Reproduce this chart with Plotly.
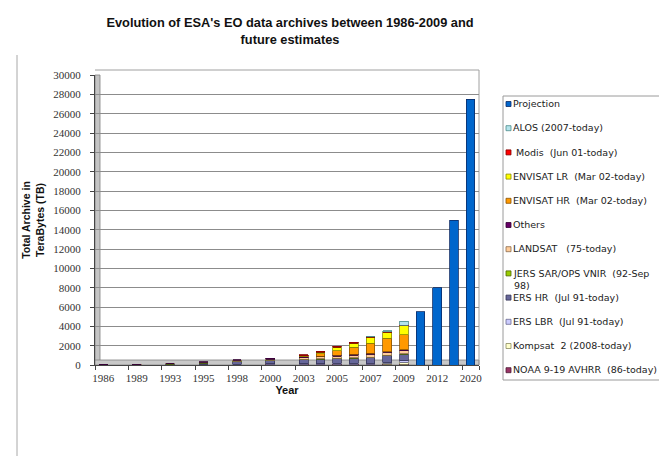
import plotly.graph_objects as go

# ---------------- data ----------------
years = ["1986", "1989", "1993", "1995", "1998", "2000", "2003", "2004", "2005",
         "2006", "2007", "2008", "2009", "2010", "2012", "2015", "2020"]
# empty category slots in the original axis (no data)
gap_years = ["1987", "1991", "1994", "1997", "1999", "2001"]
tick_years = ["1986", "1989", "1993", "1995", "1998", "2000", "2003", "2005",
              "2007", "2009", "2012", "2020"]

N = None
noaa = [10, 15, 25, 35, 50, 60, 70, 75, 80, 85, 90, 95, 100, N, N, N, N]
kompsat = [N, N, N, N, N, N, N, N, N, N, N, 100, 200, N, N, N, N]
ers_lbr = [N, N, 15, 30, 45, 55, 65, 75, 85, 95, 105, 115, 125, N, N, N, N]
ers_hr = [N, N, 50, 130, 250, 320, 400, 440, 480, 530, 580, 640, 700, N, N, N, N]
jers = [N, N, 15, 25, 35, 35, 35, 35, 35, 35, 35, 35, 35, N, N, N, N]
landsat = [35, 45, 60, 80, 110, 150, 190, 210, 240, 260, 290, 310, 330, N, N, N, N]
others = [10, 10, 15, 20, 40, 60, 80, 90, 100, 100, 100, 100, 100, N, N, N, N]
envisat_hr = [N, N, N, N, N, N, 60, 260, 480, 720, 1050, 1380, 1520, N, N, N, N]
envisat_lr = [N, N, N, N, N, N, 40, 120, 330, 430, 630, 600, 950, N, N, N, N]
modis = [N, N, N, N, N, N, 100, 120, 100, 80, 60, 50, 50, N, N, N, N]
alos = [N, N, N, N, N, N, N, N, N, N, 30, 120, 400, N, N, N, N]
projection = [N, N, N, N, N, N, N, N, N, N, N, N, N, 5500, 8000, 15000, 27500]

# stacking order, bottom -> top
series_names = ["NOAA 9-19 AVHRR  (86-today)", "Kompsat  2 (2008-today)",
                "ERS LBR  (Jul 91-today)", "ERS HR  (Jul 91-today)",
                "JERS SAR/OPS VNIR  (92-Sep<br>98)", "LANDSAT   (75-today)",
                "Others", "ENVISAT HR  (Mar 02-today)", "ENVISAT LR  (Mar 02-today)",
                " Modis  (Jun 01-today)", "ALOS (2007-today)", "Projection"]
series_values = [noaa, kompsat, ers_lbr, ers_hr, jers, landsat, others,
                 envisat_hr, envisat_lr, modis, alos, projection]
series_colors = ["#993366", "#FFFFCC", "#CCCCFF", "#666699", "#99CC00", "#FFCC99",
                 "#660066", "#FF9900", "#FFFF00", "#FF0000", "#B4E4EC", "#0066CC"]
series_edges = ["#4d1a33", "#8a8a60", "#6a6a90", "#333355", "#4d6600", "#8a6a4d",
                "#330033", "#8a5200", "#8a8a00", "#800000", "#4a8a8a", "#0a2a66"]

all_categories = sorted(years + gap_years)

# ---------------- figure ----------------
fig = go.Figure()
for name, vals, col, edge in zip(series_names, series_values, series_colors, series_edges):
    fig.add_trace(go.Bar(
        x=years, y=vals, name=name.replace("<br>", " "),
        marker=dict(color=col, line=dict(color=edge, width=0.8)),
        showlegend=False,
    ))

# plot-area geometry (pixels)
W, H = 659, 456
L, R, T, B = 95, 479, 75, 365
def px_x(p):
    return (p - L) / (R - L)
def px_y(p):
    return (B - p) / (B - T)

shapes = [
    # left 3-D wall
    dict(type="rect", xref="paper", yref="paper", x0=0, x1=px_x(L + 5), y0=0, y1=1,
         fillcolor="#C4C4C4", line=dict(color="#808080", width=0.8), layer="below"),
    # floor
    dict(type="rect", xref="paper", yref="paper", x0=0, x1=1, y0=0, y1=px_y(B - 5),
         fillcolor="#C8C8C8", line=dict(color="#808080", width=0.8), layer="below"),
    # back-wall right edge
    dict(type="line", xref="paper", yref="paper", x0=1, x1=1, y0=0, y1=px_y(70),
         line=dict(color="#A0A0A0", width=1), layer="below"),
    dict(type="line", xref="paper", yref="paper", x0=0, x1=1, y0=px_y(70), y1=px_y(70),
         line=dict(color="#A0A0A0", width=1), layer="below"),
    # chart-area left border
    dict(type="line", xref="paper", yref="paper", x0=px_x(17), x1=px_x(17),
         y0=px_y(55), y1=px_y(456), line=dict(color="#A8A8A8", width=1)),
    # legend box
    dict(type="rect", xref="paper", yref="paper", x0=px_x(503), x1=px_x(690),
         y0=px_y(380), y1=px_y(96), fillcolor="white",
         line=dict(color="#9A9A9A", width=1)),
]

annotations = []
legend_names = series_names[::-1]
legend_colors = series_colors[::-1]
legend_edges = series_edges[::-1]
for i, (nm, col, edge) in enumerate(zip(legend_names, legend_colors, legend_edges)):
    cy = 104 + 24.2 * i
    shapes.append(dict(type="rect", xref="paper", yref="paper",
                       x0=px_x(506), x1=px_x(511), y0=px_y(cy + 2.5), y1=px_y(cy - 2.5),
                       fillcolor=col, line=dict(color=edge, width=0.8)))
    annotations.append(dict(xref="paper", yref="paper", x=px_x(512), y=px_y(cy - 6.8),
                            xanchor="left", yanchor="top", align="left", showarrow=False,
                            text=nm, borderpad=0,
                            font=dict(family="DejaVu Sans", size=9.5, color="#222222")))

fig.update_layout(
    width=W, height=H,
    margin=dict(l=L, r=W - R, t=T, b=H - B, pad=0),
    barmode="stack", bargap=0.48,
    plot_bgcolor="white", paper_bgcolor="white",
    showlegend=False,
    title=dict(text="Evolution of ESA's EO data archives between 1986-2009 and<br>future estimates",
               x=290 / W, xanchor="center", xref="container",
               y=1 - 27 / H, yanchor="top", yref="container",
               font=dict(family="Liberation Sans, Arial", size=12.8, color="#111111",
                         weight="bold")),
    xaxis=dict(type="category", categoryorder="array", categoryarray=all_categories,
               tickmode="array", tickvals=tick_years, ticktext=tick_years,
               tickangle=0, ticklabelstandoff=3,
               tickson="boundaries", ticks="outside", ticklen=4, tickcolor="#444444",
               showline=True, linecolor="#444444", linewidth=1, showgrid=False,
               tickfont=dict(family="Liberation Serif", size=11, color="#333333"),
               title=dict(text="Year", standoff=3,
                          font=dict(family="Liberation Sans, Arial", size=11,
                                    color="#111111", weight="bold"))),
    yaxis=dict(range=[0, 30000], dtick=2000, tickformat="d",
               showgrid=True, gridcolor="#8C8C8C", gridwidth=1, zeroline=False,
               showline=True, linecolor="#444444", linewidth=1,
               ticks="outside", ticklen=4, tickcolor="#444444",
               ticklabelstandoff=7,
               tickfont=dict(family="Liberation Serif", size=11, color="#333333"),
               title=dict(text="Total Archive in<br>TeraBytes (TB)", standoff=6,
                          font=dict(family="Liberation Sans, Arial", size=10.5,
                                    color="#111111", weight="bold"))),
    shapes=shapes,
    annotations=annotations,
)

fig.write_html("out.html")
